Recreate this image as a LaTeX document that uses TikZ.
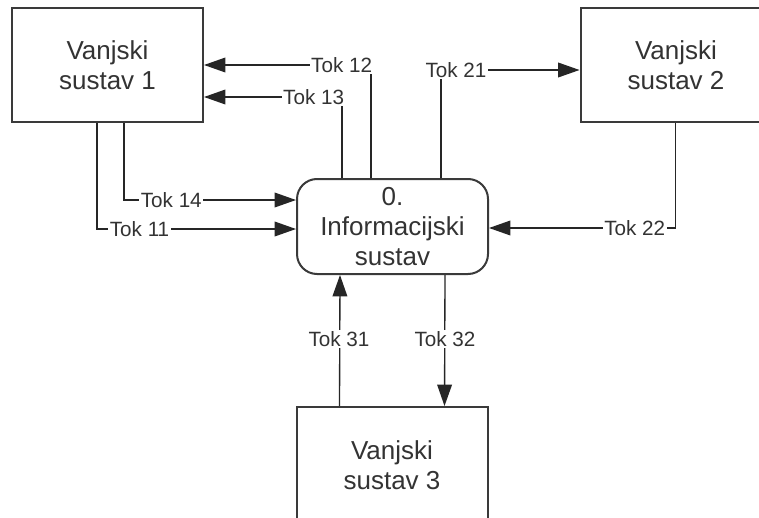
\documentclass[tikz,border=0pt]{standalone}
\usepackage{fontspec}
\setmainfont{Liberation Sans}
\usetikzlibrary{arrows.meta,calc}
\definecolor{ink}{HTML}{333333}
\definecolor{edgec}{HTML}{3A3A3A}
\begin{document}
\begin{tikzpicture}[x=0.75pt,y=-0.75pt,
  ext/.style={draw=edgec, line width=1.5pt, fill=white, minimum width=143.25pt, minimum height=85.5pt, align=center, font=\fontsize{19.5}{22.5}\selectfont, text=ink, inner sep=0pt},
  proc/.style={ext, rounded corners=15pt, minimum height=71.25pt},
  flow/.style={draw=black!85, line width=1pt, -{Triangle[length=16pt,width=11pt]}},
  lbl/.style={fill=white, inner sep=1.2pt, font=\fontsize{15.5}{17}\selectfont, text=ink}]
\useasboundingbox (0,0) rectangle (759,517);
\clip (0,0) rectangle (759,517);
\fill[white] (0,0) rectangle (759,517);
% boxes
\node[ext] (s1) at (107.5,65) {Vanjski\\sustav 1};
\node[ext] (s2) at (676,65) {Vanjski\\sustav 2};
\node[ext, minimum height=87pt] (s3) at (392,465) {Vanjski\\sustav 3};
\node[proc] (p) at (392.5,226.5) {0.\\Informacijski\\sustav};
% connectors
\draw[flow] ($(p.north west)+(75,0)$) |- (s1.east);
\draw[flow] ($(p.north west)+(46,0)$) |- ($(s1.east)+(0,32)$);
\draw[flow] ($(s1.south west)+(113,0)$) |- ($(p.west)+(0,-26.5)$);
\draw[flow] ($(s1.south west)+(86,0)$) |- ($(p.west)+(0,2.5)$);
\draw[flow] ($(p.north west)+(145,0)$) |- ($(s2.west)+(0,5)$);
\draw[flow] ($(s2.south west)+(96,0)$) |- ($(p.east)+(0,1.5)$);
\draw[flow] ($(s3.north west)+(44,0)$) -- ($(p.south west)+(44,0)$);
\draw[flow] ($(p.south west)+(149,0)$) -- ($(s3.north west)+(149,0)$);
% labels
\node[lbl, anchor=east] (l12) at (374,65) {Tok 12};
\node[lbl, anchor=east] (l13) at (346,97) {Tok 13};
\node[lbl, anchor=west] (l14) at (139,200) {Tok 14};
\node[lbl, anchor=west] (l11) at (108,229) {Tok 11};
\node[lbl] (l21) at (456,70) {Tok 21};
\node[lbl, anchor=east] (l22) at (667,228) {Tok 22};
\node[lbl] (l31) at (339,339) {Tok 31};
\node[lbl] (l32) at (445,339) {Tok 32};
\end{tikzpicture}
\end{document}
